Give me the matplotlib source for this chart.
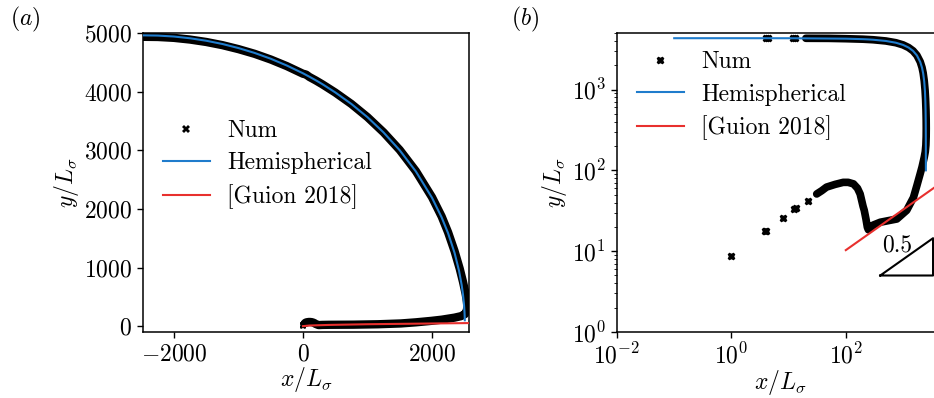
import numpy as np
import matplotlib
matplotlib.use("Agg")
import matplotlib.pyplot as plt
from matplotlib.ticker import LogLocator, NullLocator, NullFormatter

plt.rcParams['font.family'] = ['cmr10', 'DejaVu Serif']
plt.rcParams['mathtext.fontset'] = 'cm'
plt.rcParams['axes.formatter.use_mathtext'] = True
plt.rcParams['font.size'] = 17
plt.rcParams['axes.unicode_minus'] = True

# ---- data ----
# Hemispherical model
hemi_x = [-2480, -2250, -2000, -1750, -1500, -1250, -1000, -750, -500, -250, 0.1, 1, 10,
          100, 200, 250, 300, 500, 750, 1000, 1250, 1500, 1750, 2000, 2150, 2250, 2350,
          2420, 2460, 2480, 2495, 2500, 2505, 2508, 2509]
hemi_y = [4960, 4956, 4940, 4910, 4868, 4813, 4743, 4660, 4561, 4445, 4313, 4312, 4307,
          4254, 4193, 4161, 4128, 3987, 3790, 3564, 3303, 3000, 2639, 2191, 1855, 1585, 1250,
          941, 703, 545, 386, 315, 223, 141, 100]

# Num: dense part of the contour (drawn as a thick band)
num_x = [-2480, -2250, -2000, -1750, -1500, -1250, -1000, -750, -500, -250, 0, 20, 50,
         100, 200, 300, 500, 750, 1000, 1250, 1500, 1750, 2000, 2150, 2250, 2350,
         2430, 2480, 2520, 2542, 2548, 2540, 2510, 2450, 2350, 2150, 1990, 1750, 1520,
         1160, 780, 400, 300, 248, 238, 225, 210, 200, 190, 178, 160, 136, 110, 90, 65,
         46, 38, 31]
num_y = [4935, 4932, 4917, 4888, 4847, 4793, 4725, 4645, 4548, 4435, 4305, 4300, 4290,
         4250, 4190, 4125, 3985, 3790, 3565, 3305, 3005, 2645, 2200, 1870, 1600, 1280,
         980, 760, 560, 420, 330, 260, 205, 170, 145, 110, 90, 65, 46,
         32, 25, 22.8, 21, 18.4, 19.8, 25, 32, 36, 42, 51, 60, 68, 71, 71, 67,
         62, 56, 51]
# Num: isolated markers
num_sparse_x = [1.0, 3.8, 4.1, 7.9, 12.5, 13.5, 21.7, 4.0, 4.3, 12.0, 13.0]
num_sparse_y = [8.7, 17.7, 18.0, 25.8, 33.0, 34.0, 42.3, 4300, 4300, 4300, 4300]

# Guion 2018
guion_x = [0, 100, 400, 1000, 2500, 5000]
guion_y = [0, 10.3, 20.6, 32.6, 51.5, 72.8]

# slope triangle
tri_x = [400, 3350, 3350, 400]
tri_y = [5.0, 5.0, 14.47, 5.0]

blue = '#1f7ccc'
red = '#e8302e'

fig = plt.figure(figsize=(9.34, 3.98), dpi=100)
W, H = 934, 398
axa = fig.add_axes([143 / W, (H - 332) / H, 326 / W, 299 / H])
axb = fig.add_axes([617 / W, (H - 332) / H, 326 / W, 299 / H])

for ax in (axa, axb):
    for s in ax.spines.values():
        s.set_linewidth(1.1)
    ax.tick_params(width=1.0, length=4.5)

# ---- panel (a) ----
axa.plot(num_sparse_x, num_sparse_y, 'X', color='k', ms=4.5, mew=0, zorder=1.5, label='Num')
axa.plot(num_x, num_y, color='k', lw=6, solid_joinstyle='round', solid_capstyle='round', zorder=2)
axa.plot(hemi_x, hemi_y, color=blue, lw=1.5, zorder=3, label='Hemispherical')
axa.plot(guion_x, guion_y, color=red, lw=1.5, zorder=3, label='[Guion 2018]')
axa.set_xlim(-2480, 2574)
axa.set_ylim(-100, 5000)
axa.set_xticks([-2000, 0, 2000])
axa.set_yticks([0, 1000, 2000, 3000, 4000, 5000])
axa.set_xlabel(r'$x/L_\sigma$', labelpad=0)
axa.set_ylabel(r'$y/L_\sigma$', labelpad=2)
axa.legend(loc='center left', bbox_to_anchor=(0.031, 0.560), frameon=False,
           borderaxespad=0, handlelength=2.0, handletextpad=0.75, labelspacing=0.42,
           markerscale=1.3)

# ---- panel (b) ----
def pos(xs, ys):
    xs = np.asarray(xs, float); ys = np.asarray(ys, float)
    m = (xs > 0) & (ys > 0)
    return xs[m], ys[m]

bx, by = pos(num_x, num_y)
axb.plot(bx, by, color='k', lw=5.5, solid_joinstyle='round', solid_capstyle='round', zorder=2)
sx, sy = pos(num_sparse_x, num_sparse_y)
axb.plot(sx, sy, 'X', color='k', ms=5, zorder=2, label='Num')
hx, hy = pos(hemi_x, hemi_y)
axb.plot(hx, hy, color=blue, lw=1.5, zorder=3, label='Hemispherical')
gx, gy = pos(guion_x, guion_y)
gm = gx >= 100
axb.plot(gx[gm], gy[gm], color=red, lw=1.5, zorder=3, label='[Guion 2018]')
axb.plot(tri_x, tri_y, color='k', lw=1.5, zorder=3)
axb.text(790, 11.8, '0.5', ha='center', va='center')
axb.set_xscale('log')
axb.set_yscale('log')
axb.set_xlim(1e-2, 5000)
axb.set_ylim(1, 5000)
axb.set_xticks([1e-2, 1e0, 1e2])
axb.xaxis.set_minor_locator(NullLocator())
axb.set_yticks([1, 10, 100, 1000])
axb.yaxis.set_minor_locator(LogLocator(base=10, subs=np.arange(2, 10)))
axb.yaxis.set_minor_formatter(NullFormatter())
axb.set_xlabel(r'$x/L_\sigma$', labelpad=0)
axb.set_ylabel(r'$y/L_\sigma$', labelpad=2)
axb.legend(loc='center left', bbox_to_anchor=(0.031, 0.790), frameon=False,
           borderaxespad=0, handlelength=2.0, handletextpad=0.75, labelspacing=0.42)

fig.text(25 / W, 1 - 19 / H, r'$(a)$', ha='center', va='center', fontsize=17)
fig.text(525 / W, 1 - 19 / H, r'$(b)$', ha='center', va='center', fontsize=17)

fig.savefig('out.png', dpi=100)
